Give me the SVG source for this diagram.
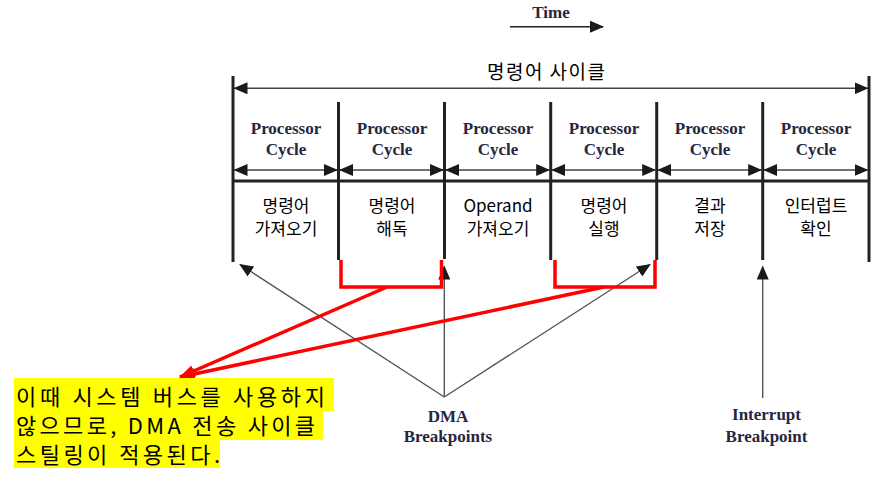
<svg xmlns="http://www.w3.org/2000/svg" width="879" height="483" viewBox="0 0 879 483">
<style>
.pc{font-family:"Liberation Serif","Times New Roman",serif;font-weight:bold;font-size:17px;fill:#262640;text-anchor:middle}
.kr{font-family:"Noto Sans CJK KR","Noto Sans",sans-serif;font-size:17px;fill:#000;text-anchor:middle}
.note{font-family:"Noto Sans CJK KR","Noto Sans",sans-serif;font-size:22px;fill:#000}
.vl{stroke:#222;stroke-width:3;fill:none}
.dim{stroke:#444;stroke-width:1.6;fill:none;marker-start:url(#ah);marker-end:url(#ah)}
.gray{stroke:#555;stroke-width:1.4;fill:none;marker-end:url(#ah)}
.red{stroke:#ff0000;stroke-width:3.5;fill:none}
.redarrow{stroke:#ff0000;stroke-width:3.5;fill:none;marker-end:url(#rh)}
</style>
<defs>
<marker id="ah" markerUnits="userSpaceOnUse" viewBox="0 0 14 12" refX="13" refY="6" markerWidth="14" markerHeight="12" orient="auto-start-reverse">
<path d="M0,0 L14,6 L0,12 Z" fill="#1a1a1a"/>
</marker>
<marker id="rh" markerUnits="userSpaceOnUse" viewBox="0 0 16 12" refX="15" refY="6" markerWidth="16" markerHeight="12" orient="auto">
<path d="M0,0 L16,6 L0,12 Z" fill="#ff0000"/>
</marker>
</defs>
<rect width="879" height="483" fill="#ffffff"/>

<g id="time">
<text x="551" y="18" class="pc">Time</text>
<line x1="510" y1="26.7" x2="603" y2="26.7" stroke="#222" stroke-width="1.6" marker-end="url(#ah)"/>
</g>

<g id="instruction-cycle">
<text x="546" y="79" class="kr" style="font-size:19px" textLength="118" lengthAdjust="spacing">명령어 사이클</text>
<line x1="233" y1="76" x2="233" y2="262" class="vl"/>
<line x1="869" y1="76" x2="869" y2="262" class="vl"/>
<line x1="234.5" y1="88.3" x2="867.5" y2="88.3" class="dim"/>
<line x1="233" y1="181" x2="869" y2="181" class="vl"/>
</g>

<g id="dividers">
<line x1="338.5" y1="102" x2="338.5" y2="260" class="vl"/>
<line x1="444.5" y1="102" x2="444.5" y2="259" class="vl"/>
<line x1="550.7" y1="102" x2="550.7" y2="260" class="vl"/>
<line x1="656.7" y1="102" x2="656.7" y2="260" class="vl"/>
<line x1="762.7" y1="102" x2="762.7" y2="260" class="vl"/>
</g>

<g id="cycle1">
<text x="286" y="134" class="pc">Processor</text>
<text x="286" y="155" class="pc">Cycle</text>
<line x1="234.5" y1="170" x2="337" y2="170" class="dim"/>
<text x="286" y="212" class="kr">명령어</text>
<text x="286" y="235" class="kr">가져오기</text>
</g>
<g id="cycle2">
<text x="392" y="134" class="pc">Processor</text>
<text x="392" y="155" class="pc">Cycle</text>
<line x1="340" y1="170" x2="443" y2="170" class="dim"/>
<text x="392" y="212" class="kr">명령어</text>
<text x="392" y="235" class="kr">해독</text>
</g>
<g id="cycle3">
<text x="498" y="134" class="pc">Processor</text>
<text x="498" y="155" class="pc">Cycle</text>
<line x1="446" y1="170" x2="549.2" y2="170" class="dim"/>
<text x="498" y="212" class="kr">Operand</text>
<text x="498" y="235" class="kr">가져오기</text>
</g>
<g id="cycle4">
<text x="604" y="134" class="pc">Processor</text>
<text x="604" y="155" class="pc">Cycle</text>
<line x1="552.2" y1="170" x2="655.2" y2="170" class="dim"/>
<text x="604" y="212" class="kr">명령어</text>
<text x="604" y="235" class="kr">실행</text>
</g>
<g id="cycle5">
<text x="710" y="134" class="pc">Processor</text>
<text x="710" y="155" class="pc">Cycle</text>
<line x1="658.2" y1="170" x2="761.2" y2="170" class="dim"/>
<text x="710" y="212" class="kr">결과</text>
<text x="710" y="235" class="kr">저장</text>
</g>
<g id="cycle6">
<text x="816" y="134" class="pc">Processor</text>
<text x="816" y="155" class="pc">Cycle</text>
<line x1="764.2" y1="170" x2="867.5" y2="170" class="dim"/>
<text x="816" y="212" class="kr">인터럽트</text>
<text x="816" y="235" class="kr">확인</text>
</g>

<g id="connectors">
<line x1="444.3" y1="397" x2="240" y2="264.5" class="gray"/>
<line x1="444.3" y1="397" x2="444.3" y2="266.5" class="gray"/>
<line x1="444.3" y1="397" x2="650" y2="264.5" class="gray"/>
<line x1="762.7" y1="398" x2="762.7" y2="266.5" class="gray"/>
<path d="M341,260 V287 H441.5 V260" class="red"/>
<path d="M555,260 V287 H655 V260" class="red"/>
<line x1="387" y1="287" x2="180" y2="377" class="redarrow"/>
<line x1="604" y1="287" x2="180" y2="377" class="redarrow"/>
</g>

<g id="dma-label">
<text x="448" y="421.5" class="pc">DMA</text>
<text x="448" y="442" class="pc">Breakpoints</text>
</g>
<g id="interrupt-label">
<text x="766.5" y="420" class="pc">Interrupt</text>
<text x="766.5" y="441.5" class="pc">Breakpoint</text>
</g>

<g id="note">
<rect x="14" y="378" width="320" height="33" fill="#ffff00"/>
<rect x="14" y="411" width="309" height="29" fill="#ffff00"/>
<rect x="14" y="440" width="206" height="28" fill="#ffff00"/>
<text x="16" y="405" class="note" textLength="309" lengthAdjust="spacing">이때 시스템 버스를 사용하지</text>
<text x="16" y="434" class="note" textLength="299" lengthAdjust="spacing">않으므로, DMA 전송 사이클</text>
<text x="16" y="463" class="note" textLength="204" lengthAdjust="spacing">스틸링이 적용된다.</text>
</g>
</svg>
